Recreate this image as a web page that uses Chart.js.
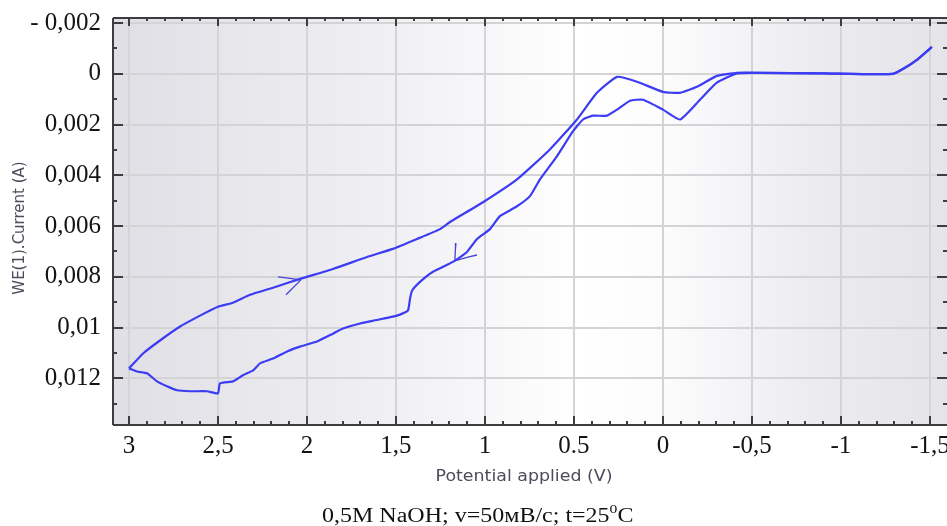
<!DOCTYPE html>
<html>
<head>
<meta charset="utf-8">
<script src="https://cdn.jsdelivr.net/npm/chart.js@4.4.1/dist/chart.umd.min.js"></script>
<style>
  html, body { margin: 0; padding: 0; background: #ffffff; }
  #wrap { position: relative; width: 947px; height: 526px; overflow: hidden; }
  #cv { position: absolute; left: 0; top: 0; }
  #caption {
    position: absolute; left: 322px; top: 502px; white-space: nowrap;
    font-family: 'Liberation Serif', 'Times New Roman', serif; font-size: 20px; color: #111;
    transform: scaleX(1.2); transform-origin: 0 0;
  }
  #caption sup { font-size: 13px; position: relative; top: -1px; }
</style>
</head>
<body>
<div id="wrap">
  <canvas id="cv" width="947" height="526"></canvas>
  <div id="caption">0,5M NaOH; v=50мВ/с; t=25<sup>0</sup>C</div>
</div>
<script>
// Cyclic voltammogram, 0.5 M NaOH, scan rate 50 mV/s
// Forward sweep: potential (V) and current (A)
const forwardV = [3.000, 2.921, 2.826, 2.713, 2.601, 2.500, 2.416, 2.320, 2.191, 2.039,
  1.854, 1.663, 1.517, 1.382, 1.253, 1.197, 1.011, 0.820, 0.635, 0.483,
  0.371, 0.258, 0.146, 0.000, -0.096, -0.191, -0.303, -0.416, -0.545, -0.900,
  -1.292, -1.360, -1.427, -1.511];
const forwardI = [0.01161, 0.01102, 0.01051, 0.00996, 0.00953, 0.00918, 0.00902, 0.00871, 0.00843, 0.00808,
  0.00769, 0.00722, 0.00690, 0.00651, 0.00612, 0.00584, 0.00506, 0.00416, 0.00298, 0.00180,
  0.00075, 0.00012, 0.00031, 0.00071, 0.00075, 0.00051, 0.00008, -0.00004, -0.00004, -0.00002,
  0.00000, -0.00024, -0.00055, -0.00106];

// Return sweep back to 3 V
const reverseV = [-1.511, -1.427, -1.360, -1.292, -0.900, -0.545, -0.416, -0.303, -0.208, -0.096,
  0.000, 0.112, 0.185, 0.258, 0.315, 0.393, 0.449, 0.506, 0.596, 0.691,
  0.747, 0.820, 0.916, 0.972, 1.045, 1.101, 1.180, 1.292, 1.365, 1.410,
  1.421, 1.433, 1.478, 1.517, 1.629, 1.702, 1.798, 1.854, 1.944, 2.039,
  2.112, 2.191, 2.264, 2.303, 2.360, 2.416, 2.489, 2.500, 2.562, 2.657,
  2.730, 2.787, 2.843, 2.899, 2.955, 3.000];
const reverseI = [-0.00106, -0.00055, -0.00024, 0.00000, -0.00002, -0.00004, -0.00002, 0.00035, 0.00102, 0.00180,
  0.00141, 0.00102, 0.00106, 0.00141, 0.00165, 0.00165, 0.00180, 0.00227, 0.00325, 0.00416,
  0.00482, 0.00522, 0.00561, 0.00612, 0.00651, 0.00702, 0.00741, 0.00780, 0.00820, 0.00855,
  0.00886, 0.00933, 0.00949, 0.00957, 0.00973, 0.00984, 0.01004, 0.01024, 0.01055, 0.01075,
  0.01094, 0.01122, 0.01141, 0.01169, 0.01188, 0.01212, 0.01220, 0.01259, 0.01251, 0.01251,
  0.01247, 0.01231, 0.01212, 0.01180, 0.01173, 0.01161];

// Hand-drawn sweep direction arrows (two strokes each)
const arrowUpperA_V = [2.163, 2.118, 2.034];
const arrowUpperA_I = [0.00800, 0.00804, 0.00812];
const arrowUpperB_V = [2.118, 2.034];
const arrowUpperB_I = [0.00871, 0.00812];
const arrowLowerA_V = [1.163, 1.166, 1.169];
const arrowLowerA_I = [0.00667, 0.00690, 0.00737];
const arrowLowerB_V = [1.045, 1.096, 1.169];
const arrowLowerB_I = [0.00714, 0.00722, 0.00737];

// Axis ticks and their printed labels
const xTickValues = [3, 2.5, 2, 1.5, 1, 0.5, 0, -0.5, -1, -1.5];
const xTickLabels = ['3', '2,5', '2', '1,5', '1', '0.5', '0', '-0,5', '-1', '-1,5'];
const yTickValues = [-0.002, 0, 0.002, 0.004, 0.006, 0.008, 0.01, 0.012];
const yTickLabels = ['- 0,002', '0', '0,002', '0,004', '0,006', '0,008', '0,01', '0,012'];

const xTitle = 'Potential applied (V)';
const yTitle = 'WE(1).Current (A)';

const pts = (xs, ys) => xs.map((x, i) => ({ x: x, y: ys[i] }));

const serif = "'Liberation Serif', 'Times New Roman', serif";
const curveColor = '#3c3cf2';
const penColor = '#4646d2';

// Background shading, frame with inward ticks, axis titles
const decor = {
  id: 'decor',
  beforeDraw(chart) {
    const { ctx, chartArea: a } = chart;
    const g = ctx.createLinearGradient(a.left, 0, a.right, 0);
    g.addColorStop(0.00, '#dfdfe5');
    g.addColorStop(0.18, '#e8e8ed');
    g.addColorStop(0.38, '#f3f3f6');
    g.addColorStop(0.56, '#ffffff');
    g.addColorStop(0.66, '#fcfcfd');
    g.addColorStop(0.84, '#ececf0');
    g.addColorStop(1.00, '#e4e4e9');
    ctx.save();
    ctx.fillStyle = g;
    ctx.fillRect(a.left, a.top, a.right - a.left, a.bottom - a.top);
    ctx.restore();
  },
  afterDraw(chart) {
    const { ctx, chartArea: a, scales } = chart;
    const xs = scales.x, ys = scales.y;
    ctx.save();
    // frame
    ctx.strokeStyle = '#3d3d3d';
    ctx.lineWidth = 2;
    ctx.beginPath();
    ctx.moveTo(a.left, a.top); ctx.lineTo(a.right, a.top);
    ctx.moveTo(a.left, a.top); ctx.lineTo(a.left, a.bottom);
    ctx.moveTo(a.left, a.bottom); ctx.lineTo(a.right, a.bottom);
    ctx.stroke();
    // x ticks every 0.1 V, majors every 0.5 V (bottom and top, inward)
    for (let k = -15; k <= 30; k++) {
      const px = Math.round(xs.getPixelForValue(k / 10));
      const major = k % 5 === 0;
      const lb = major ? 9 : 4, lt = major ? 8 : 3;
      ctx.beginPath();
      ctx.moveTo(px, a.bottom); ctx.lineTo(px, a.bottom - lb);
      ctx.moveTo(px, a.top); ctx.lineTo(px, a.top + lt);
      ctx.stroke();
    }
    // y ticks every 0.001 A, majors every 0.002 A (left and right, inward)
    for (let k = -2; k <= 13; k++) {
      const py = Math.round(ys.getPixelForValue(k / 1000));
      const major = k % 2 === 0;
      const l = major ? 10 : 4;
      ctx.beginPath();
      ctx.moveTo(a.left, py); ctx.lineTo(a.left + l, py);
      ctx.moveTo(a.right, py); ctx.lineTo(a.right - l, py);
      ctx.stroke();
    }
    // axis titles
    ctx.fillStyle = '#4c4c5c';
    ctx.textAlign = 'center';
    ctx.textBaseline = 'middle';
    ctx.save();
    ctx.translate(524, 477);
    ctx.scale(1.16, 1);
    ctx.font = "15px 'DejaVu Sans', Verdana, sans-serif";
    ctx.fillText(xTitle, 0, 0);
    ctx.restore();
    ctx.translate(20, 228);
    ctx.rotate(-Math.PI / 2);
    ctx.font = "15px 'DejaVu Sans', Verdana, sans-serif";
    ctx.fillText(yTitle, 0, 0);
    ctx.restore();
  }
};

const lineSet = (data, color, width) => ({
  data: data, showLine: true, borderColor: color, backgroundColor: color,
  borderWidth: width, pointRadius: 0, pointHoverRadius: 0, tension: 0.15, fill: false
});

new Chart(document.getElementById('cv'), {
  type: 'scatter',
  data: {
    datasets: [
      lineSet(pts(forwardV, forwardI), curveColor, 2.2),
      lineSet(pts(reverseV, reverseI), curveColor, 2.2),
      Object.assign(lineSet(pts(arrowUpperA_V, arrowUpperA_I), penColor, 1.3), { tension: 0 }),
      Object.assign(lineSet(pts(arrowUpperB_V, arrowUpperB_I), penColor, 1.3), { tension: 0 }),
      Object.assign(lineSet(pts(arrowLowerA_V, arrowLowerA_I), penColor, 1.3), { tension: 0 }),
      Object.assign(lineSet(pts(arrowLowerB_V, arrowLowerB_I), penColor, 1.3), { tension: 0 })
    ]
  },
  options: {
    responsive: false,
    animation: false,
    devicePixelRatio: 1,
    layout: { padding: { top: 18, right: 0, left: 0, bottom: 0 } },
    plugins: { legend: { display: false }, tooltip: { enabled: false } },
    scales: {
      x: {
        type: 'linear', reverse: true, min: -1.596, max: 3.09,
        border: { display: false },
        grid: { color: '#d4d4d6', lineWidth: 2, drawTicks: false },
        afterBuildTicks: (s) => { s.ticks = xTickValues.map(v => ({ value: v })); },
        afterFit: (s) => { s.height = 101; s.paddingLeft = 0; s.paddingRight = 0; },
        ticks: {
          autoSkip: false, maxRotation: 0, padding: 6, color: '#141418',
          font: { family: serif, size: 25 },
          callback: (v, i) => xTickLabels[i]
        }
      },
      y: {
        type: 'linear', reverse: true, min: -0.0022, max: 0.01384,
        border: { display: false },
        grid: { color: '#d4d4d6', lineWidth: 2, drawTicks: false },
        afterBuildTicks: (s) => { s.ticks = yTickValues.map(v => ({ value: v })); },
        afterFit: (s) => { s.width = 113; s.paddingTop = 0; s.paddingBottom = 0; },
        ticks: {
          autoSkip: false, padding: 12, color: '#141418',
          font: { family: serif, size: 25 },
          callback: (v, i) => yTickLabels[i]
        }
      }
    }
  },
  plugins: [decor]
});
</script>
</body>
</html>
